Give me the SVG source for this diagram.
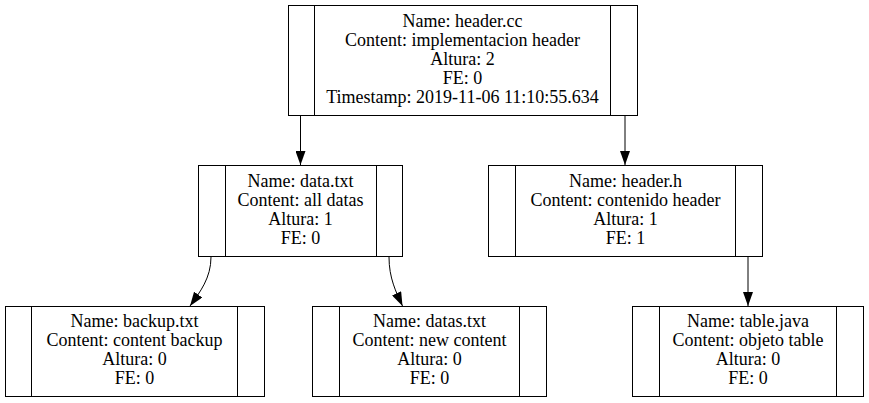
<svg xmlns="http://www.w3.org/2000/svg" width="869" height="403" viewBox="0 0 869 403">
<style>
.box{fill:#fff;stroke:#000;stroke-width:1}
.div{stroke:#000;stroke-width:1;fill:none}
text{font-family:"Liberation Serif","Times New Roman",serif;font-size:18px;fill:#000;text-anchor:middle}
.edge{fill:none;stroke:#000;stroke-width:1}
</style>
<defs>
<marker id="arr" viewBox="0 0 14 10" refX="14" refY="5" markerWidth="14" markerHeight="10" markerUnits="userSpaceOnUse" orient="auto">
<path d="M0,0 L14,5 L0,10 Z" fill="#000"/>
</marker>
</defs>
<rect width="869" height="403" fill="#fff"/>
<g id="edges">
<path class="edge" d="M300.5,116 L300.5,165" marker-end="url(#arr)"/>
<path class="edge" d="M625,116 L625,165" marker-end="url(#arr)"/>
<path class="edge" d="M211,257 C211,278 200,292 190,306" marker-end="url(#arr)"/>
<path class="edge" d="M389,257 C389,278 396,292 402.5,306" marker-end="url(#arr)"/>
<path class="edge" d="M748,257 L748,306" marker-end="url(#arr)"/>
</g>
<g id="node-header-cc">
<rect class="box" x="288.5" y="5.5" width="349" height="110"/>
<path class="div" d="M314.5,5.5V115.5M610.5,5.5V115.5"/>
<text x="462.5" y="27">Name: header.cc</text>
<text x="462.5" y="46">Content: implementacion header</text>
<text x="462.5" y="65">Altura: 2</text>
<text x="462.5" y="84">FE: 0</text>
<text x="462.5" y="103">Timestamp: 2019-11-06 11:10:55.634</text>
</g>
<g id="node-data-txt">
<rect class="box" x="198.5" y="165.5" width="204" height="91"/>
<path class="div" d="M225.5,165.5V256.5M376.5,165.5V256.5"/>
<text x="300.5" y="186.5">Name: data.txt</text>
<text x="300.5" y="205.5">Content: all datas</text>
<text x="300.5" y="224.5">Altura: 1</text>
<text x="300.5" y="243.5">FE: 0</text>
</g>
<g id="node-header-h">
<rect class="box" x="488.5" y="165.5" width="274" height="91"/>
<path class="div" d="M515.5,165.5V256.5M735.5,165.5V256.5"/>
<text x="625.5" y="186.5">Name: header.h</text>
<text x="625.5" y="205.5">Content: contenido header</text>
<text x="625.5" y="224.5">Altura: 1</text>
<text x="625.5" y="243.5">FE: 1</text>
</g>
<g id="node-backup-txt">
<rect class="box" x="5.5" y="306.5" width="259" height="90"/>
<path class="div" d="M31.5,306.5V396.5M237.5,306.5V396.5"/>
<text x="134.5" y="327">Name: backup.txt</text>
<text x="134.5" y="346">Content: content backup</text>
<text x="134.5" y="365">Altura: 0</text>
<text x="134.5" y="384">FE: 0</text>
</g>
<g id="node-datas-txt">
<rect class="box" x="312.5" y="306.5" width="234" height="90"/>
<path class="div" d="M339.5,306.5V396.5M519.5,306.5V396.5"/>
<text x="429.5" y="327">Name: datas.txt</text>
<text x="429.5" y="346">Content: new content</text>
<text x="429.5" y="365">Altura: 0</text>
<text x="429.5" y="384">FE: 0</text>
</g>
<g id="node-table-java">
<rect class="box" x="632.5" y="306.5" width="231" height="90"/>
<path class="div" d="M659.5,306.5V396.5M836.5,306.5V396.5"/>
<text x="748" y="327">Name: table.java</text>
<text x="748" y="346">Content: objeto table</text>
<text x="748" y="365">Altura: 0</text>
<text x="748" y="384">FE: 0</text>
</g>
</svg>
